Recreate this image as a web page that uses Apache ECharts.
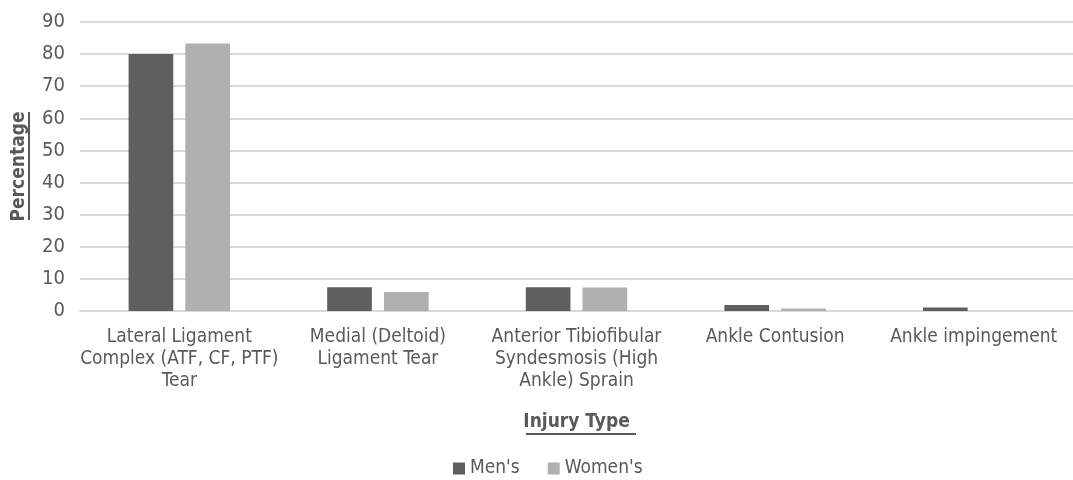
<!DOCTYPE html>
<html>
<head>
<meta charset="utf-8">
<title>Injury Type</title>
<script src="https://cdn.jsdelivr.net/npm/echarts@6.0.0/dist/echarts.min.js"></script>
<style>
  html, body { margin: 0; padding: 0; background: #fff; }
  #chart { width: 1073px; height: 480px; }
</style>
</head>
<body>
<div id="chart"></div>
<script>
// injury categories (line breaks as in the picture)
var injuryTypes = [
  "Lateral Ligament\nComplex (ATF, CF, PTF)\nTear",
  "Medial (Deltoid)\nLigament Tear",
  "Anterior Tibiofibular\nSyndesmosis (High\nAnkle) Sprain",
  "Ankle Contusion",
  "Ankle impingement"
];
var mens = [80, 7.4, 7.4, 1.9, 1.1];
var womens = [83.3, 5.9, 7.3, 0.8, 0];
var seriesNames = ["Men's", "Women's"];

var font = "'Liberation Sans Narrow', 'DejaVu Sans Condensed', sans-serif";
var textCol = "#595959";

var chart = echarts.init(document.getElementById("chart"));
var option = {
  animation: false,
  color: ["#5f5f5f", "#b0b0b0"],
  grid: { left: 80, right: 0, top: 22, bottom: 169 },
  legend: {
    data: seriesNames,
    top: 454,
    left: 448,
    icon: "rect",
    itemWidth: 12,
    itemHeight: 12,
    itemGap: 28,
    textStyle: { color: textCol, fontSize: 19, fontFamily: font }
  },
  xAxis: {
    type: "category",
    data: injuryTypes,
    name: "Injury Type",
    nameLocation: "middle",
    nameGap: 102,
    nameTextStyle: { color: textCol, fontSize: 19, fontWeight: "bold", fontFamily: font },
    axisLine: { lineStyle: { color: "#d9d9d9", width: 2 } },
    axisTick: { show: false },
    axisLabel: {
      color: textCol, fontSize: 19, fontFamily: font,
      lineHeight: 22, margin: 15, interval: 0
    }
  },
  yAxis: {
    type: "value",
    min: 0, max: 90, interval: 10,
    name: "Percentage",
    nameLocation: "middle",
    nameGap: 51,
    nameTextStyle: { color: textCol, fontSize: 19, fontWeight: "bold", fontFamily: font },
    axisLabel: { color: textCol, fontSize: 20, fontFamily: font, margin: 15 },
    splitLine: { lineStyle: { color: "#d9d9d9", width: 2 } }
  },
  series: [
    { name: seriesNames[0], type: "bar", data: mens, barWidth: "22.5%", barGap: "27%" },
    { name: seriesNames[1], type: "bar", data: womens, barWidth: "22.5%", barGap: "27%" }
  ],
  graphic: [
    // underlines of the two axis titles
    { type: "rect", shape: { x: 28, y: 112, width: 2, height: 108 }, style: { fill: textCol } },
    { type: "rect", shape: { x: 526, y: 433, width: 110, height: 2 }, style: { fill: textCol } }
  ]
};
chart.setOption(option);
</script>
</body>
</html>
